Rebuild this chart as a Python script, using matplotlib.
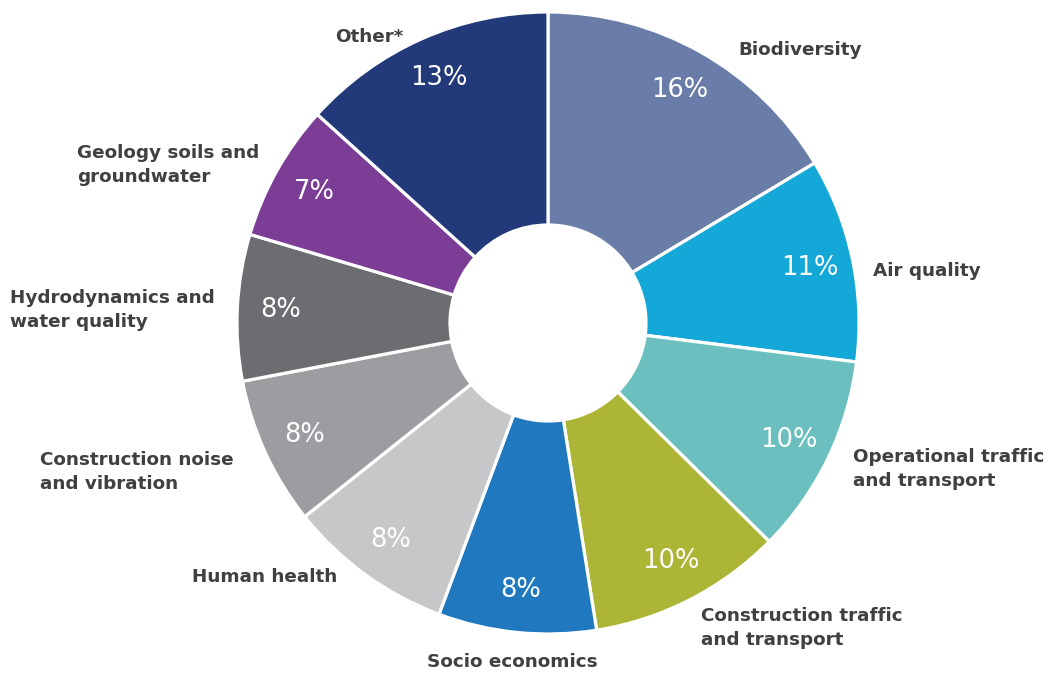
import matplotlib
matplotlib.use("Agg")
import matplotlib.pyplot as plt
import numpy as np

categories = ["Biodiversity", "Air quality", "Operational traffic\nand transport",
              "Construction traffic\nand transport", "Socio economics", "Human health",
              "Construction noise\nand vibration", "Hydrodynamics and\nwater quality",
              "Geology soils and\ngroundwater", "Other*"]
shares = [16.4, 10.6, 10.4, 10.1, 8.2, 8.6, 7.7, 7.6, 7.1, 13.3]
pct_labels = ["16%", "11%", "10%", "10%", "8%", "8%", "8%", "8%", "7%", "13%"]
colors = ["#6a7ca8", "#14a8d8", "#6bbfbf", "#adb536", "#2079bf",
          "#c6c7c9", "#9c9da1", "#6b6d71", "#7c3d97", "#233a7a"]

# label anchor (pixel coords from top-left) and alignment
label_pos = [(738, 50, "left"), (873, 271, "left"), (853, 469, "left"),
             (701, 628, "left"), (427, 662, "left"), (337, 577, "right"),
             (40, 472, "left"), (10, 310, "left"), (77, 165, "left"), (403, 37, "right")]

W, H = 1055, 673
fig = plt.figure(figsize=(W / 100, H / 100), dpi=100)
ax = fig.add_axes([0, 0, 1, 1])

cx, cy = 548, H - 323
R, r_in = 311, 98
wedges, _ = ax.pie(shares, colors=colors, startangle=90, counterclock=False,
                   radius=R, center=(cx, cy), frame=True,
                   wedgeprops=dict(width=R - r_in, edgecolor="white", linewidth=2.3))
ax.set_xlim(0, W)
ax.set_ylim(0, H)
ax.set_aspect("equal")
ax.axis("off")

for w, lab in zip(wedges, pct_labels):
    ang = np.deg2rad((w.theta1 + w.theta2) / 2)
    rr = 268
    ax.text(cx + rr * np.cos(ang), cy + rr * np.sin(ang), lab, color="white",
            fontsize=18.5, ha="center", va="center", family="DejaVu Sans")

for cat, (x, y, ha) in zip(categories, label_pos):
    ax.text(x, H - y, cat, color="#404040", fontsize=13.2, ha=ha, va="center",
            family="DejaVu Sans", fontweight="bold", linespacing=1.45)

fig.savefig("out.png", dpi=100, facecolor="white")
